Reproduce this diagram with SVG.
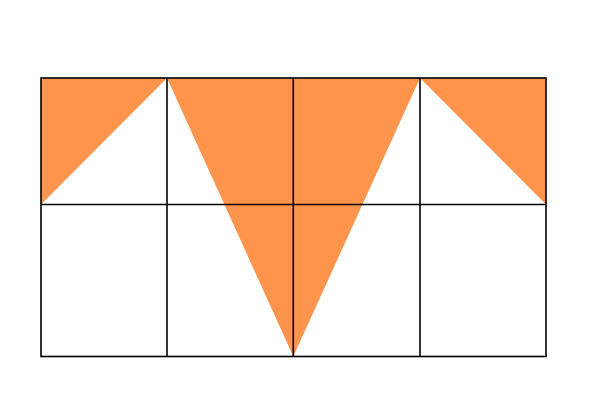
<svg xmlns="http://www.w3.org/2000/svg" width="600" height="400" viewBox="0 0 600 400">
<style>
.fill{fill:#FF944D;stroke:none}
.grid{fill:none;stroke:#000;stroke-width:1.6}
</style>
<rect width="600" height="400" fill="#fff"/>
<g id="shapes">
<polygon class="fill" points="41,78 167,78 41,204.5"/>
<polygon class="fill" points="420,78 546,78 546,204.5"/>
<polygon class="fill" points="167,78 420,78 293.3,356.5"/>
</g>
<g id="grid">
<rect class="grid" x="41" y="78" width="505" height="278.5"/>
<line class="grid" x1="167" y1="78" x2="167" y2="356.5"/>
<line class="grid" x1="293.3" y1="78" x2="293.3" y2="356.5"/>
<line class="grid" x1="420" y1="78" x2="420" y2="356.5"/>
<line class="grid" x1="41" y1="204.5" x2="546" y2="204.5"/>
</g>
</svg>
